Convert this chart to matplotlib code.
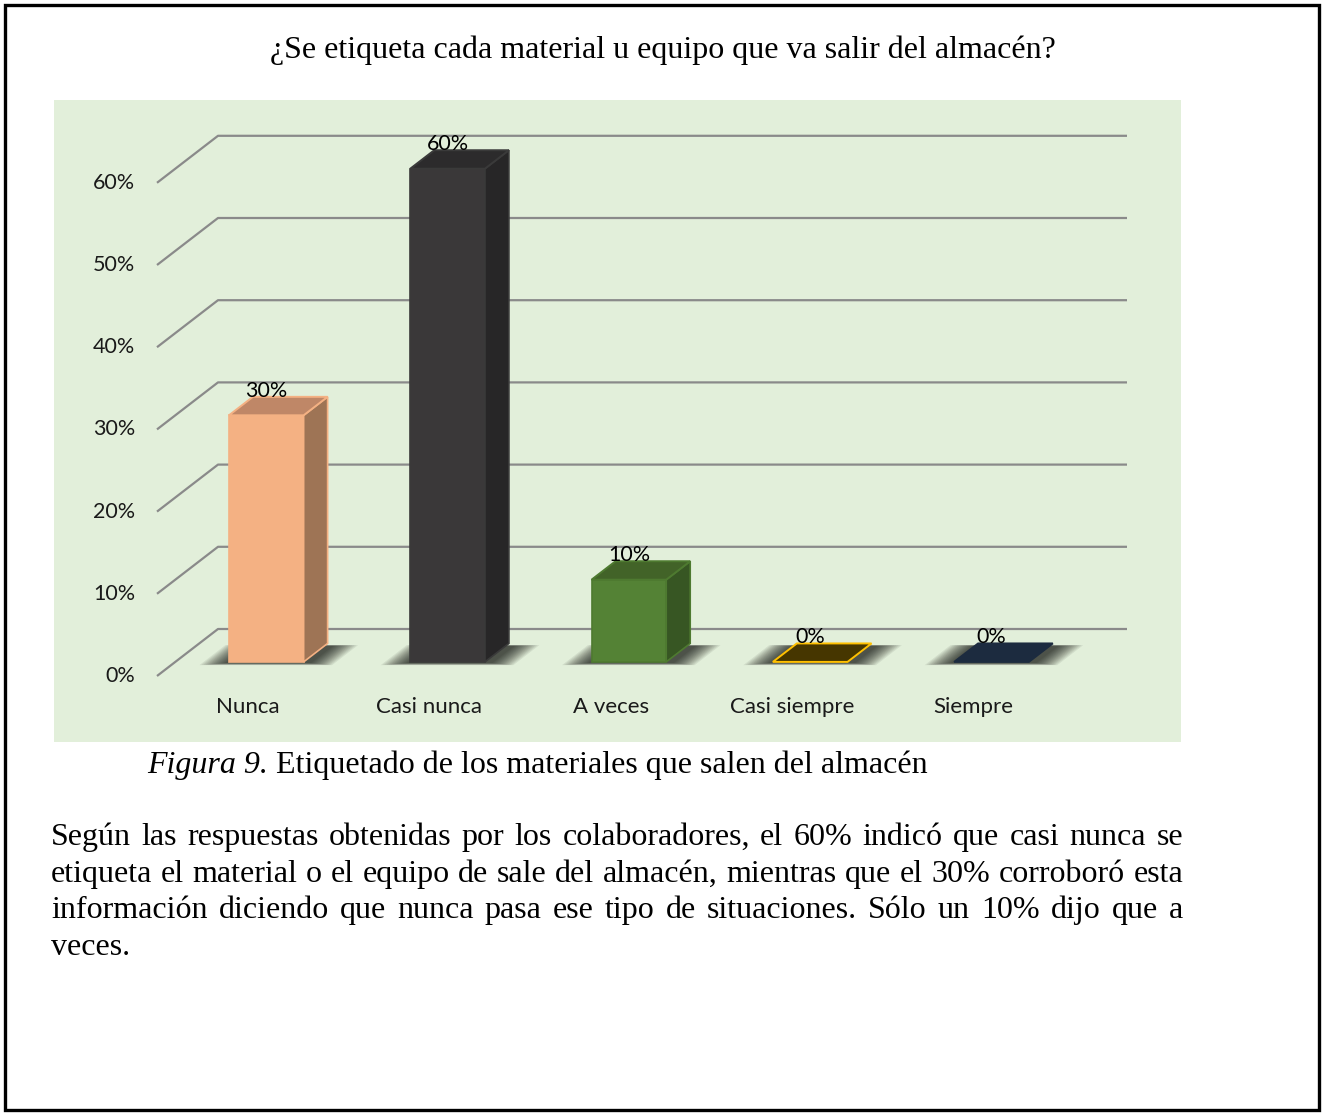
import matplotlib
matplotlib.use("Agg")
import matplotlib.pyplot as plt
from matplotlib.patches import Polygon, Rectangle

# Data
categories = ["Nunca", "Casi nunca", "A veces", "Casi siempre", "Siempre"]
values = [30, 60, 10, 0, 0]
labels = ["30%", "60%", "10%", "0%", "0%"]
front_colors = ["#F4B183", "#3A3839", "#548235", "#463600", "#1C2B3F"]
side_colors = ["#9E7455", "#272627", "#375623", "#463600", "#1C2B3F"]
top_colors = ["#BF8767", "#2C2B2C", "#426328", "#463600", "#1C2B3F"]
edge_colors = ["#F4B183", "#3A3A3A", "#4E7A30", "#FFC000", "#1C2B3F"]
yticks = [0, 10, 20, 30, 40, 50, 60]

title = "¿Se etiqueta cada material u equipo que va salir del almacén?"
caption_it = "Figura 9."
caption_rest = " Etiquetado de los materiales que salen del almacén"
paragraph = [
    "Según las respuestas obtenidas por los colaboradores, el 60% indicó que casi nunca se",
    "etiqueta el material o el equipo de sale del almacén, mientras que el 30% corroboró esta",
    "información diciendo que nunca pasa ese tipo de situaciones. Sólo un 10% dijo que a",
    "veces.",
]

W, H = 1325, 1113
fig = plt.figure(figsize=(W / 100, H / 100), dpi=100)

def fx(px):
    return px / W

def fy(py):
    return 1 - py / H

# page frame
fig.patches.append(Rectangle((fx(5), fy(1110)), fx(1314), 1105 / H, transform=fig.transFigure,
                             fill=False, edgecolor="black", linewidth=2.4))

# chart area (green)
ax = fig.add_axes([fx(54), fy(742), fx(1181 - 54), (742 - 100) / H])
ax.set_facecolor("#E2EFDA")
for s in ax.spines.values():
    s.set_visible(False)
ax.set_xticks([])
ax.set_yticks([])

# pixel -> data mapping: category step 181.3 px, 8.22 px per percent
step, ppu = 181.3, 8.22
x0px, y0px = 248, 676
ax.set_xlim((54 - x0px) / step, (1181 - x0px) / step)
ax.set_ylim((y0px - 742) / ppu, (y0px - 100) / ppu)

DX = 61 / step   # depth offset in x
DY = 47 / ppu    # depth offset in y
x_left = (157 - x0px) / step
x_right = (1127 - x0px) / step

def proj(x, v, d):
    return (x + d * DX, v + d * DY)

sans = ["Lato", "DejaVu Sans"]
grid_c = "#8A8A8A"
for v in yticks:
    a = proj(x_left, v, 0)
    b = proj(x_left, v, 1)
    ax.plot([a[0], b[0], x_right], [a[1], b[1], b[1]], color=grid_c, lw=1.6, zorder=1,
            solid_capstyle="butt")
    ax.text(a[0] - 22 / step, a[1], f"{v}%", ha="right", va="center", fontsize=15.5,
            family=sans, color="#1A1A1A")

w = 0.206
d0, d1 = 0.30, 0.693

for i, (cat, val) in enumerate(zip(categories, values)):
    # soft shadow on the floor (stacked translucent footprints)
    n = 14
    for k in range(n):
        e = 0.14 * (1 - k / n)
        pts = [proj(i - w - e, 0, d0 - 0.02 - e * 0.35), proj(i + w + e + 0.04, 0, d0 - 0.02 - e * 0.35),
               proj(i + w + e + 0.04, 0, d1 - 0.05 + e * 0.1), proj(i - w - e, 0, d1 - 0.05 + e * 0.1)]
        ax.add_patch(Polygon(pts, closed=True, facecolor="black", edgecolor="none",
                             alpha=0.07, zorder=2))
    if val > 0:
        front = [proj(i - w, 0, d0), proj(i + w, 0, d0), proj(i + w, val, d0), proj(i - w, val, d0)]
        side = [proj(i + w, 0, d0), proj(i + w, 0, d1), proj(i + w, val, d1), proj(i + w, val, d0)]
        ax.add_patch(Polygon(front, closed=True, facecolor=front_colors[i],
                             edgecolor=edge_colors[i], lw=1.2, zorder=3))
        ax.add_patch(Polygon(side, closed=True, facecolor=side_colors[i],
                             edgecolor=edge_colors[i], lw=1.2, zorder=3))
    top = [proj(i - w, val, d0), proj(i + w, val, d0), proj(i + w, val, d1), proj(i - w, val, d1)]
    ax.add_patch(Polygon(top, closed=True, facecolor=top_colors[i],
                         edgecolor=edge_colors[i], lw=1.4, zorder=3))
    lx, ly = proj(i, val, d0)
    ax.text(lx, val + d1 * DY + 0.75, labels[i], ha="center", va="center", fontsize=15.5,
            family=sans, color="black", zorder=5)
    ax.text(i, (y0px - 707) / ppu, cat, ha="center", va="center", fontsize=16,
            family=sans, color="#1A1A1A")

serif = "Liberation Serif"
fs = 23
fig.text(fx(663), fy(58), title, ha="center", va="baseline", fontsize=fs, family=serif)

fig.canvas.draw()
r = fig.canvas.get_renderer()

def width_px(s, style="normal"):
    t = fig.text(0, 0, s, fontsize=fs, family=serif, style=style)
    wpx = t.get_window_extent(r).width
    t.remove()
    return wpx

# caption
fig.text(fx(147), fy(773), caption_it, ha="left", va="baseline", fontsize=fs,
         family=serif, style="italic")
fig.text(fx(147 + width_px(caption_it, "italic")), fy(773), caption_rest, ha="left",
         va="baseline", fontsize=fs, family=serif)

# justified paragraph
left, right = 51, 1183
baselines = [845, 882, 918, 955]
for line, base in zip(paragraph, baselines):
    words = line.split(" ")
    if line is paragraph[-1]:
        fig.text(fx(left), fy(base), line, ha="left", va="baseline", fontsize=fs, family=serif)
        continue
    widths = [width_px(wd) for wd in words]
    gap = (right - left - sum(widths)) / (len(words) - 1)
    x = left
    for wd, wpx in zip(words, widths):
        fig.text(fx(x), fy(base), wd, ha="left", va="baseline", fontsize=fs, family=serif)
        x += wpx + gap

fig.savefig("out.png", dpi=100)
